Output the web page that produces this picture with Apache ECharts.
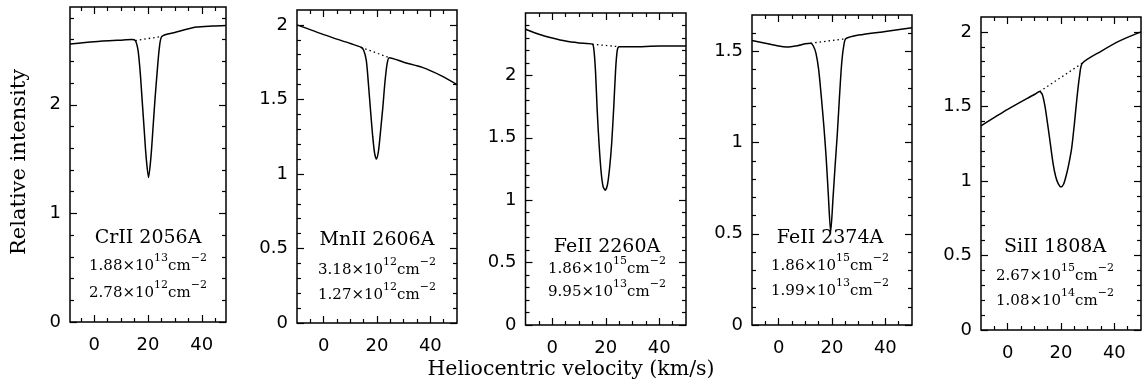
<!DOCTYPE html>
<html><head><meta charset="utf-8">
<script src="https://cdn.jsdelivr.net/npm/echarts@6/dist/echarts.min.js"></script>
<style>html,body{margin:0;padding:0;background:#fff}#c{width:1143px;height:387px}</style>
</head><body><div id="c"></div>
<script>
// ---------- DATA ----------
const crX = [-9, 0, 10, 14, 15.3, 16.3, 17.1, 17.8, 18.5, 19.3, 20.2, 21.1, 21.9, 22.6, 23.4, 24.2, 25.2, 30, 38, 44, 49];
const crY = [2.56, 2.58, 2.595, 2.60, 2.59, 2.50, 2.30, 2.05, 1.80, 1.52, 1.33, 1.52, 1.80, 2.05, 2.30, 2.52, 2.63, 2.665, 2.715, 2.725, 2.73];
const crDot = [[15.3, 2.59], [25.2, 2.63]];

const mnX = [-10, 0, 10, 14, 15, 16, 16.8, 17.6, 18.4, 19.1, 19.8, 20.6, 21.4, 22.2, 23, 23.8, 24.6, 30, 37, 44, 50];
const mnY = [2.00, 1.935, 1.875, 1.85, 1.83, 1.76, 1.60, 1.42, 1.25, 1.14, 1.10, 1.16, 1.30, 1.45, 1.62, 1.74, 1.78, 1.75, 1.715, 1.66, 1.60];
const mnDot = [[14, 1.85], [24.6, 1.78]];

const fe1X = [-10, -5, 0, 5, 10, 15, 15.6, 16.2, 16.8, 17.5, 18.3, 19, 19.8, 20.6, 21.4, 22.2, 23, 23.7, 24.3, 25, 30, 40, 50];
const fe1Y = [2.37, 2.33, 2.30, 2.275, 2.26, 2.25, 2.20, 2.02, 1.72, 1.45, 1.22, 1.11, 1.08, 1.12, 1.25, 1.45, 1.75, 2.05, 2.20, 2.23, 2.23, 2.235, 2.235];
const fe1Dot = [[15, 2.25], [25, 2.23]];

const fe2X = [-10, -5, 0, 3, 7, 10, 12, 13, 14, 15, 16, 17, 17.8, 18.6, 19.5, 20.4, 21.2, 22, 22.8, 23.6, 24.4, 25.2, 30, 40, 50];
const fe2Y = [1.56, 1.545, 1.53, 1.525, 1.532, 1.542, 1.545, 1.53, 1.49, 1.40, 1.25, 1.08, 0.92, 0.72, 0.51, 0.70, 0.88, 1.05, 1.25, 1.43, 1.53, 1.57, 1.59, 1.61, 1.63];
const fe2Dot = [[12, 1.545], [25.2, 1.57]];

const siX = [-10, 0, 10, 12, 13, 14, 15, 16, 17, 18, 19, 20, 21, 22, 23, 24, 25, 26, 27, 28, 35, 42, 50];
const siY = [1.37, 1.48, 1.58, 1.60, 1.58, 1.50, 1.38, 1.25, 1.12, 1.03, 0.98, 0.96, 0.98, 1.04, 1.12, 1.22, 1.38, 1.56, 1.71, 1.79, 1.87, 1.94, 2.00];
const siDot = [[12, 1.60], [28, 1.79]];

const titles = ['CrII 2056A', 'MnII 2606A', 'FeII 2260A', 'FeII 2374A', 'SiII 1808A'];
const col1 = [['1.88', '13'], ['3.18', '12'], ['1.86', '15'], ['1.86', '15'], ['2.67', '15']];
const col2 = [['2.78', '12'], ['1.27', '12'], ['9.95', '13'], ['1.99', '13'], ['1.08', '14']];

const xRanges = [[-9, 49], [-10, 50], [-10, 50], [-10, 50], [-10, 50]];
const yMaxes = [2.9, 2.1, 2.5, 1.7, 2.1];
const xMajor = [0, 20, 40];
const xMinor = [-5, 5, 10, 15, 25, 30, 35, 45];
const yMajorA = [0, 1, 2];
const yMajorB = [0, 0.5, 1, 1.5, 2];

// ---------- LAYOUT ----------
const boxes = [
  {l: 70, t: 7, w: 156, h: 315},
  {l: 297, t: 10, w: 160, h: 313},
  {l: 525.5, t: 13, w: 160.5, h: 312},
  {l: 752, t: 15, w: 160, h: 310},
  {l: 981, t: 17, w: 160, h: 313}
];
const textPos = [
  {cx: 148, y: [238, 263, 290]},
  {cx: 377, y: [240, 267, 292]},
  {cx: 607, y: [247, 266, 289]},
  {cx: 830, y: [238, 263, 288]},
  {cx: 1055, y: [247, 273, 298]}
];

const series_x = [crX, mnX, fe1X, fe2X, siX];
const series_y = [crY, mnY, fe1Y, fe2Y, siY];
const dots = [crDot, mnDot, fe1Dot, fe2Dot, siDot];

function minorsBetween(majors, step, max) {
  const out = [];
  for (let v = step; v < max - 1e-9; v += step) {
    const r = Math.round(v * 100) / 100;
    if (!majors.some(m => Math.abs(m - r) < 1e-6)) out.push(r);
  }
  return out;
}

const grid = [], xAxis = [], yAxis = [], series = [], graphic = [];
const tickStyle = {color: '#000', width: 1.2};
const labelFont = {color: '#000', fontFamily: 'DejaVu Sans', fontSize: 18};
const noLine = {show: false, onZero: false};

boxes.forEach((b, i) => {
  grid.push({left: b.l, top: b.t, width: b.w, height: b.h, show: true, borderColor: '#000', borderWidth: 1.5, backgroundColor: 'transparent'});
  const [xmin, xmax] = xRanges[i];
  const ymax = yMaxes[i];
  const yMaj = i === 0 ? yMajorA : yMajorB;
  const yMin = minorsBetween(yMaj, i === 0 ? 0.2 : 0.1, ymax);
  const baseX = {gridIndex: i, type: 'value', min: xmin, max: xmax, axisLine: noLine, splitLine: {show: false}};
  const baseY = {gridIndex: i, type: 'value', min: 0, max: ymax, axisLine: noLine, splitLine: {show: false}};
  ['bottom', 'top'].forEach(pos => {
    xAxis.push(Object.assign({}, baseX, {position: pos,
      axisTick: {show: true, inside: true, length: 7, customValues: xMajor, lineStyle: tickStyle},
      axisLabel: pos === 'bottom' ? Object.assign({show: true, customValues: xMajor, margin: 14}, labelFont) : {show: false}}));
    xAxis.push(Object.assign({}, baseX, {position: pos,
      axisTick: {show: true, inside: true, length: 4, customValues: xMinor, lineStyle: tickStyle},
      axisLabel: {show: false}}));
  });
  ['left', 'right'].forEach(pos => {
    yAxis.push(Object.assign({}, baseY, {position: pos,
      axisTick: {show: true, inside: true, length: 7, customValues: yMaj, lineStyle: tickStyle},
      axisLabel: pos === 'left' ? Object.assign({show: true, customValues: yMaj, margin: 9}, labelFont) : {show: false}}));
    yAxis.push(Object.assign({}, baseY, {position: pos,
      axisTick: {show: true, inside: true, length: 4, customValues: yMin, lineStyle: tickStyle},
      axisLabel: {show: false}}));
  });
  const xs = series_x[i], ys = series_y[i];
  series.push({type: 'line', xAxisIndex: i * 4, yAxisIndex: i * 4, data: xs.map((x, k) => [x, ys[k]]),
    showSymbol: false, smooth: 0.25, lineStyle: {color: '#000', width: 1.5}, silent: true, animation: false});
  series.push({type: 'line', xAxisIndex: i * 4, yAxisIndex: i * 4, data: dots[i],
    showSymbol: false, lineStyle: {color: '#000', width: 1.3, type: [1.5, 3]}, silent: true, animation: false});

  const tp = textPos[i];
  graphic.push({type: 'text', x: tp.cx, y: tp.y[0], style: {text: titles[i], align: 'center', verticalAlign: 'middle',
    font: '19px "DejaVu Serif"', fill: '#000'}});
  [col1[i], col2[i]].forEach((c, k) => {
    graphic.push({type: 'text', x: tp.cx, y: tp.y[k + 1], style: {
      text: '{n|' + c[0] + '×10}{s|' + c[1] + '}{n|cm}{s|−2}',
      align: 'center', verticalAlign: 'middle', fill: '#000',
      rich: {
        n: {fontFamily: 'DejaVu Serif', fontSize: 15, lineHeight: 21, verticalAlign: 'bottom', fill: '#000'},
        s: {fontFamily: 'DejaVu Serif', fontSize: 11, lineHeight: 12, verticalAlign: 'top', fill: '#000'}
      }}});
  });
});

graphic.push({type: 'text', x: 20, y: 162, rotation: Math.PI / 2, style: {text: 'Relative intensity', align: 'center', verticalAlign: 'middle', font: '21px "DejaVu Serif"', fill: '#000'}});
graphic.push({type: 'text', x: 571, y: 370, style: {text: 'Heliocentric velocity (km/s)', align: 'center', verticalAlign: 'middle', font: '20.5px "DejaVu Serif"', fill: '#000'}});

const chart = echarts.init(document.getElementById('c'), null, {renderer: 'canvas'});
chart.setOption({animation: false, backgroundColor: '#fff', grid, xAxis, yAxis, series, graphic});
</script></body></html>
